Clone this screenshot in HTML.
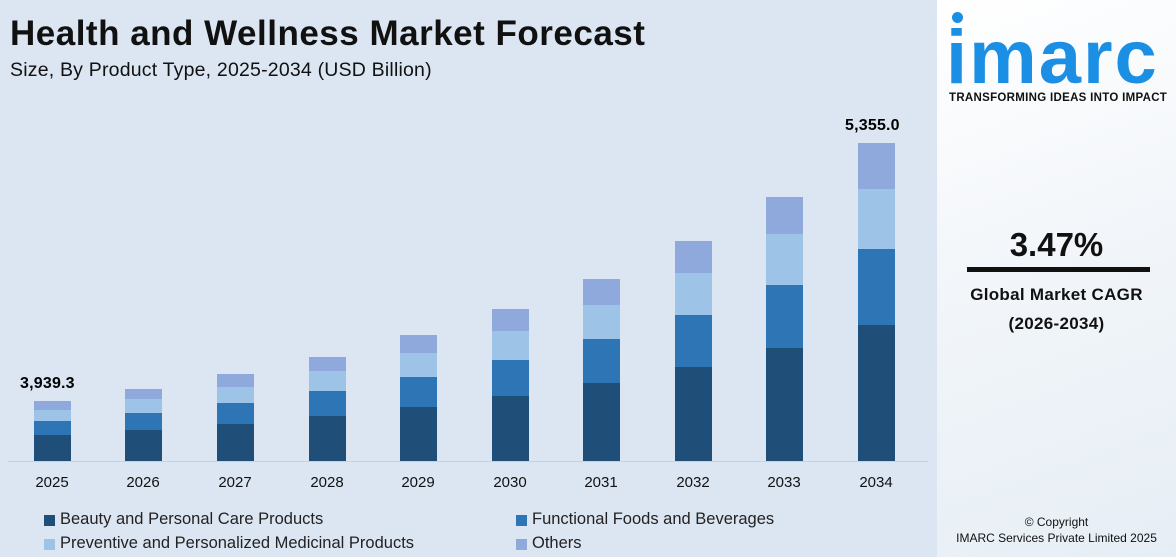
<!DOCTYPE html>
<html><head><meta charset="utf-8"><style>
body{margin:0;width:1176px;height:557px;overflow:hidden;font-family:"Liberation Sans",Arial,sans-serif;background:#dce6f2;position:relative}
.t{position:absolute;white-space:nowrap}
.bar{position:absolute;width:37px}
.panel{position:absolute;left:937px;top:0;width:239px;height:557px;background:linear-gradient(160deg,#ffffff 0%,#f1f5f9 50%,#e6eef5 100%)}
.lg{position:absolute;width:11px;height:11px}
</style></head><body>
<div class="t" style="left:10px;top:14px;font-size:35px;font-weight:bold;color:#111;letter-spacing:0.5px">Health and Wellness Market Forecast</div>
<div class="t" style="left:10px;top:59px;font-size:19.5px;color:#111;letter-spacing:0.2px">Size, By Product Type, 2025-2034 (USD Billion)</div>
<div style="position:absolute;left:8px;top:461px;width:920px;height:1px;background:#c8d2de"></div>
<div id="bars"></div>
<div class="t" style="left:20px;top:375px;font-size:16px;font-weight:bold;letter-spacing:0.2px">3,939.3</div>
<div class="t" style="left:845px;top:117px;font-size:16px;font-weight:bold;letter-spacing:0.2px">5,355.0</div>
<div class="lg" style="left:44px;top:515px;background:#1f4e79"></div><div class="t" style="left:60px;top:510px;font-size:16.5px;color:#222">Beauty and Personal Care Products</div>
<div class="lg" style="left:516px;top:515px;background:#2e75b6"></div><div class="t" style="left:532px;top:510px;font-size:16.5px;color:#222">Functional Foods and Beverages</div>
<div class="lg" style="left:44px;top:539px;background:#9dc3e6"></div><div class="t" style="left:60px;top:534px;font-size:16.5px;color:#222">Preventive and Personalized Medicinal Products</div>
<div class="lg" style="left:516px;top:539px;background:#8fa9dc"></div><div class="t" style="left:532px;top:534px;font-size:16.5px;color:#222">Others</div>
<div class="panel">
<div style="position:absolute;left:15px;top:12px;width:11px;height:11px;border-radius:50%;background:#1a8fe3"></div>
<div class="t" style="left:9px;top:20px;font-size:76px;font-weight:bold;color:#1a8fe3;letter-spacing:2px;line-height:76px">imarc</div>
<div class="t" style="left:12px;top:92px;font-size:11.5px;font-weight:bold;color:#111;letter-spacing:0.3px">TRANSFORMING IDEAS INTO IMPACT</div>
<div class="t" style="left:0;width:239px;text-align:center;top:226px;font-size:33px;font-weight:bold;color:#111">3.47%</div>
<div style="position:absolute;left:30px;top:267px;width:183px;height:5px;background:#111"></div>
<div class="t" style="left:0;width:239px;text-align:center;top:285px;font-size:17px;font-weight:bold;color:#111;letter-spacing:0.3px">Global Market CAGR</div>
<div class="t" style="left:0;width:239px;text-align:center;top:314px;font-size:17px;font-weight:bold;color:#111;letter-spacing:0.3px">(2026-2034)</div>
<div class="t" style="left:0;width:239px;text-align:center;top:515px;font-size:12px;color:#111">© Copyright</div>
<div class="t" style="left:0;width:239px;text-align:center;top:531px;font-size:12px;color:#111">IMARC Services Private Limited 2025</div>
</div>
<script>
var d=[[52,2025,401,410,421,435],[143,2026,389,399,413,430],[235,2027,374,387,403,424],[327,2028,357,371,391,416],[418,2029,335,353,377,407],[510,2030,309,331,360,396],[601,2031,279,305,339,383],[693,2032,241,273,315,367],[784,2033,197,234,285,348],[876,2034,143,189,249,325]];
var c=["#8fa9dc","#9dc3e6","#2e75b6","#1f4e79"],h="";
d.forEach(function(r){var ys=[r[2],r[3],r[4],r[5],461];for(var i=0;i<4;i++)h+='<div class="bar" style="left:'+(r[0]-18)+'px;top:'+ys[i]+'px;height:'+(ys[i+1]-ys[i])+'px;background:'+c[i]+'"></div>';
h+='<div class="t" style="left:'+(r[0]-25)+'px;width:50px;text-align:center;top:474px;font-size:15px;color:#111">'+r[1]+'</div>';});
document.getElementById("bars").innerHTML=h;
</script>
</body></html>
